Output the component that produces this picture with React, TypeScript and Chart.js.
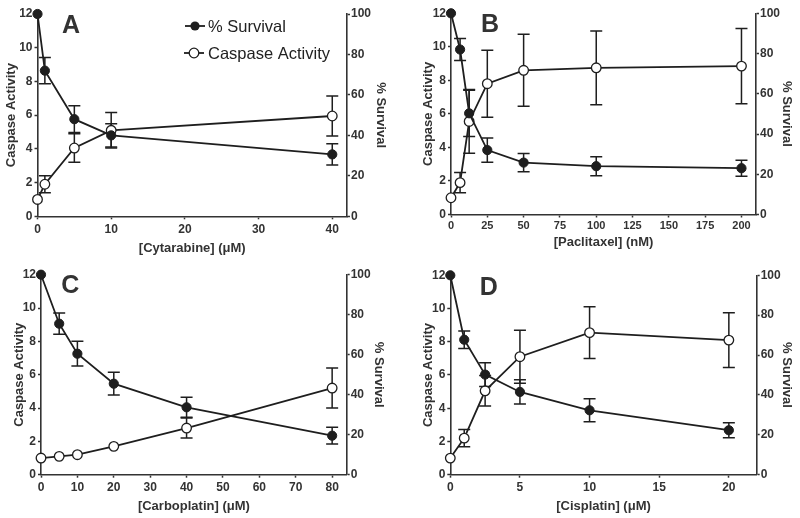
import React, { useEffect, useRef } from "react";
import { Chart, registerables } from "chart.js";

Chart.register(...registerables);

// ---------- Data ----------
// Panel A: Cytarabine (µM)
const concA = [0, 1, 5, 10, 40];
const survivalA = [100, 72, 48, 40, 30.6];
const survivalErrA = [0, 6.5, 6.6, 5.8, 5.3];
const caspaseA = [1.0, 1.9, 4.05, 5.1, 5.95];
const caspaseErrA = [0, 0.5, 0.85, 1.05, 1.18];

// Panel B: Paclitaxel (nM)
const concB = [0, 6.25, 12.5, 25, 50, 100, 200];
const survivalB = [100, 82, 50.3, 32, 25.8, 24, 23];
const survivalErrB = [0, 5.5, 11.5, 6, 4.5, 4.7, 4];
const caspaseB = [1.0, 1.9, 5.55, 7.8, 8.6, 8.75, 8.85];
const caspaseErrB = [0, 0.6, 1.9, 2.0, 2.15, 2.2, 2.25];

// Panel C: Carboplatin (µM)
const concC = [0, 5, 10, 20, 40, 80];
const survivalC = [100, 75.5, 60.5, 45.5, 33.7, 19.5];
const survivalErrC = [0, 5.3, 6.2, 5.7, 5, 4.2];
const caspaseC = [1.0, 1.1, 1.2, 1.7, 2.8, 5.2];
const caspaseErrC = [0, 0, 0, 0, 0.6, 1.2];

// Panel D: Cisplatin (µM)
const concD = [0, 1, 2.5, 5, 10, 20];
const survivalD = [100, 67.7, 50.2, 41.5, 32.3, 22.3];
const survivalErrD = [0, 4.4, 6, 6.1, 5.8, 3.8];
const caspaseD = [1.0, 2.2, 5.05, 7.1, 8.55, 8.1];
const caspaseErrD = [0, 0.52, 0.92, 1.6, 1.55, 1.65];

const leftTicks = [0, 2, 4, 6, 8, 10, 12];
const rightTicks = [0, 20, 40, 60, 80, 100];

const survivalLabel = "% Survival";
const caspaseLabel = "Caspase Activity";

// ---------- Styling ----------
const FONT = "'Liberation Sans', Arial, Helvetica, sans-serif";
const INK = "#1e1e1e";
const TEXT = "#333333";
const W = 400;
const H = 259;

type PanelDef = {
  letter: string;
  xTitle: string;
  conc: number[];
  survival: number[];
  survivalErr: number[];
  caspase: number[];
  caspaseErr: number[];
  xMax: number;
  xStep: number;
  pos: { x: number; y: number };
  area: { left: number; right: number; top: number; bottom: number };
  pads: { y: number; y1: number; x: number; xTick: number };
  xTickSize: number;
  letterPos: { x: number; y: number };
  legend: boolean;
};

const panels: PanelDef[] = [
  {
    letter: "A",
    xTitle: "[Cytarabine] (\u03BCM)",
    conc: concA, survival: survivalA, survivalErr: survivalErrA, caspase: caspaseA, caspaseErr: caspaseErrA,
    xMax: 42, xStep: 10,
    pos: { x: 0, y: 0 },
    area: { left: 37.5, right: 347, top: 14, bottom: 216.3 },
    pads: { y: 4, y1: 12, x: 3, xTick: 3 },
    xTickSize: 12,
    letterPos: { x: 71, y: 33.3 },
    legend: true,
  },
  {
    letter: "B",
    xTitle: "[Paclitaxel] (nM)",
    conc: concB, survival: survivalB, survivalErr: survivalErrB, caspase: caspaseB, caspaseErr: caspaseErrB,
    xMax: 210, xStep: 25,
    pos: { x: 400, y: 0 },
    area: { left: 51, right: 356, top: 13.3, bottom: 214.5 },
    pads: { y: 20.5, y1: 5.5, x: 8.3, xTick: 1.5 },
    xTickSize: 11,
    letterPos: { x: 90, y: 32.3 },
    legend: false,
  },
  {
    letter: "C",
    xTitle: "[Carboplatin] (\u03BCM)",
    conc: concC, survival: survivalC, survivalErr: survivalErrC, caspase: caspaseC, caspaseErr: caspaseErrC,
    xMax: 84, xStep: 10,
    pos: { x: 0, y: 259 },
    area: { left: 41, right: 346.7, top: 15.7, bottom: 215.7 },
    pads: { y: 12, y1: 14, x: 3.9, xTick: 3 },
    xTickSize: 12,
    letterPos: { x: 70.3, y: 33.8 },
    legend: false,
  },
  {
    letter: "D",
    xTitle: "[Cisplatin] (\u03BCM)",
    conc: concD, survival: survivalD, survivalErr: survivalErrD, caspase: caspaseD, caspaseErr: caspaseErrD,
    xMax: 22, xStep: 5,
    pos: { x: 400, y: 259 },
    area: { left: 50.3, right: 356.7, top: 16.3, bottom: 215.7 },
    pads: { y: 20.5, y1: 5.5, x: 3.9, xTick: 3 },
    xTickSize: 12,
    letterPos: { x: 88.7, y: 36.3 },
    legend: false,
  },
];

function Panel({ def }: { def: PanelDef }) {
  const ref = useRef<HTMLCanvasElement | null>(null);

  useEffect(() => {
    const canvas = ref.current;
    if (!canvas) return;

    const errorBars = {
      id: "errorBars",
      beforeDatasetsDraw(chart: any) {
        const ctx = chart.ctx;
        ctx.save();
        ctx.strokeStyle = INK;
        ctx.lineWidth = 1.5;
        chart.data.datasets.forEach((ds: any) => {
          const yScale = chart.scales[ds.yAxisID];
          const xScale = chart.scales.x;
          (ds.data as any[]).forEach((pt: any, j: number) => {
            const e = ds.errors[j];
            if (!e) return;
            const px = xScale.getPixelForValue(pt.x);
            const top = yScale.getPixelForValue(pt.y + e);
            const bot = yScale.getPixelForValue(pt.y - e);
            const cap = 6;
            ctx.beginPath();
            ctx.moveTo(px, top);
            ctx.lineTo(px, bot);
            ctx.moveTo(px - cap, top);
            ctx.lineTo(px + cap, top);
            ctx.moveTo(px - cap, bot);
            ctx.lineTo(px + cap, bot);
            ctx.stroke();
          });
        });
        ctx.restore();
      },
    };

    const decorations = {
      id: "decorations",
      afterDraw(chart: any) {
        const ctx = chart.ctx;
        ctx.save();
        ctx.fillStyle = TEXT;
        ctx.font = `bold 25px ${FONT}`;
        ctx.textAlign = "center";
        ctx.textBaseline = "alphabetic";
        ctx.fillText(def.letter, def.letterPos.x, def.letterPos.y);

        if (def.legend) {
          const items = [
            { label: survivalLabel, filled: true, cx: 195, cy: 26 },
            { label: caspaseLabel, filled: false, cx: 194, cy: 53 },
          ];
          items.forEach((it) => {
            ctx.strokeStyle = INK;
            ctx.lineWidth = 1.8;
            ctx.beginPath();
            ctx.moveTo(it.cx - 10, it.cy);
            ctx.lineTo(it.cx + 10, it.cy);
            ctx.stroke();
            ctx.beginPath();
            ctx.arc(it.cx, it.cy, it.filled ? 4.6 : 4.8, 0, Math.PI * 2);
            if (it.filled) {
              ctx.fillStyle = INK;
              ctx.fill();
            } else {
              ctx.fillStyle = "#ffffff";
              ctx.fill();
              ctx.lineWidth = 1.3;
              ctx.stroke();
            }
            ctx.fillStyle = "#222222";
            ctx.font = `16.5px ${FONT}`;
            ctx.textAlign = "left";
            ctx.textBaseline = "middle";
            ctx.fillText(it.label, 208, it.cy + 1);
          });
        }
        ctx.restore();
      },
    };

    const axisCommon = {
      border: { display: true, color: TEXT, width: 1.6 },
      grid: {
        display: true,
        drawOnChartArea: false,
        drawTicks: true,
        tickLength: 3,
        tickWidth: 1.5,
        tickColor: TEXT,
        color: TEXT,
      },
    };

    const chart = new Chart(canvas, {
      type: "line",
      data: {
        datasets: [
          {
            label: survivalLabel,
            data: def.conc.map((x, i) => ({ x, y: def.survival[i] })),
            errors: def.survivalErr,
            yAxisID: "y1",
            borderColor: INK,
            borderWidth: 1.8,
            pointRadius: 4.6,
            pointBackgroundColor: INK,
            pointBorderColor: INK,
            pointBorderWidth: 1,
            tension: 0,
            clip: false,
          } as any,
          {
            label: caspaseLabel,
            data: def.conc.map((x, i) => ({ x, y: def.caspase[i] })),
            errors: def.caspaseErr,
            yAxisID: "y",
            borderColor: INK,
            borderWidth: 1.8,
            pointRadius: 4.8,
            pointBackgroundColor: "#ffffff",
            pointBorderColor: INK,
            pointBorderWidth: 1.3,
            tension: 0,
            clip: false,
          } as any,
        ],
      },
      options: {
        animation: false,
        responsive: false,
        maintainAspectRatio: false,
        events: [],
        layout: { padding: { top: def.area.top, left: 0, right: 0, bottom: 0 } },
        plugins: {
          legend: { display: false },
          tooltip: { enabled: false },
          title: { display: false },
        },
        scales: {
          x: {
            type: "linear",
            position: "bottom",
            min: 0,
            max: def.xMax,
            ...axisCommon,
            ticks: {
              stepSize: def.xStep,
              includeBounds: false,
              maxRotation: 0,
              autoSkip: false,
              padding: def.pads.xTick,
              color: TEXT,
              font: { family: FONT, size: def.xTickSize, weight: "bold" },
            },
            title: {
              display: true,
              text: def.xTitle,
              color: TEXT,
              font: { family: FONT, size: 13, weight: "bold" },
              padding: { top: 0, bottom: def.pads.x },
            },
            afterFit: (s: any) => {
              s.height = H - def.area.bottom;
            },
          },
          y: {
            type: "linear",
            position: "left",
            min: leftTicks[0],
            max: leftTicks[leftTicks.length - 1],
            ...axisCommon,
            ticks: {
              stepSize: leftTicks[1] - leftTicks[0],
              padding: 2,
              color: TEXT,
              font: { family: FONT, size: 12, weight: "bold" },
            },
            title: {
              display: true,
              text: caspaseLabel,
              color: TEXT,
              font: { family: FONT, size: 13, weight: "bold" },
              padding: { top: def.pads.y, bottom: 0 },
            },
            afterFit: (s: any) => {
              s.width = def.area.left;
            },
          },
          y1: {
            type: "linear",
            position: "right",
            min: rightTicks[0],
            max: rightTicks[rightTicks.length - 1],
            ...axisCommon,
            ticks: {
              stepSize: rightTicks[1] - rightTicks[0],
              padding: 1,
              color: TEXT,
              font: { family: FONT, size: 12, weight: "bold" },
            },
            title: {
              display: true,
              text: survivalLabel,
              color: TEXT,
              font: { family: FONT, size: 13, weight: "bold" },
              padding: { top: def.pads.y1, bottom: 0 },
            },
            afterFit: (s: any) => {
              s.width = W - def.area.right;
            },
          },
        },
      } as any,
      plugins: [errorBars, decorations],
    });

    return () => {
      chart.destroy();
    };
  }, [def]);

  return (
    <canvas
      ref={ref}
      width={W}
      height={H}
      style={{
        position: "absolute",
        left: def.pos.x,
        top: def.pos.y,
        width: W,
        height: H,
        display: "block",
      }}
    />
  );
}

export default function App() {
  return (
    <div
      style={{
        position: "absolute",
        left: 0,
        top: 0,
        width: 800,
        height: 518,
        background: "#ffffff",
        overflow: "hidden",
      }}
    >
      {panels.map((p) => (
        <Panel key={p.letter} def={p} />
      ))}
    </div>
  );
}
